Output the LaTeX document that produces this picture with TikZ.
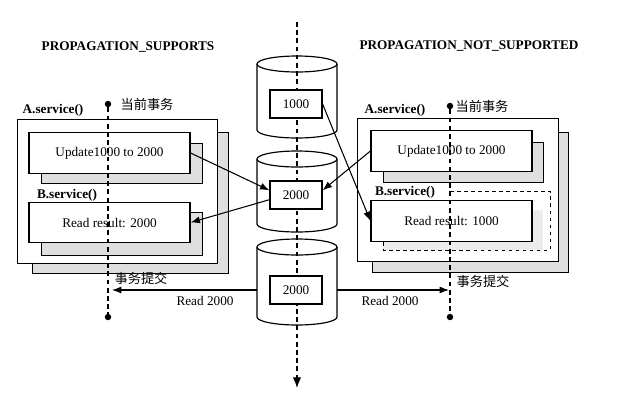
\documentclass[tikz,border=0pt]{standalone}
\usepackage{fontspec}
\setmainfont{Liberation Serif}
\newfontfamily\cjk{Noto Sans CJK SC}
\usetikzlibrary{arrows.meta}
\usetikzlibrary{positioning}

\begin{document}
\begin{tikzpicture}[x=0.03cm,y=-0.03cm,font=\fontsize{11.3}{13}\selectfont]
  \tikzset{
    box/.style={draw,line width=1pt,fill=white,minimum width=4.83cm,minimum height=1.22cm,inner sep=0pt},
    outer/.style={draw,line width=1pt,fill=white,minimum width=6.02cm,minimum height=4.3cm},
    val/.style={draw,line width=1pt,fill=white,minimum width=1.56cm,minimum height=0.84cm},
    shadowbox/.style={draw,line width=0.8pt,fill=gray!25},
    dot/.style={circle,fill,inner sep=0pt,minimum size=5.5pt},
    tline/.style={line width=0.9pt,dash pattern=on 4pt off 3pt},
    arr/.style={line width=0.9pt,-{Latex[length=8pt,width=6pt]}},
    lbl/.style={font=\fontsize{11.3}{13}\selectfont\bfseries},
  }
  \useasboundingbox (0,0) rectangle (635,407);
  \foreach \t/\b in {64/130,159/224,247/317} {
    \draw[line width=1pt,fill=white] (257,\t) -- (257,\b) arc[start angle=180,end angle=0,x radius=40,y radius=8]
      -- (337,\t) arc[start angle=0,end angle=-180,x radius=40,y radius=8] -- cycle;
    \draw[line width=1pt] (257,\t) arc[start angle=180,end angle=0,x radius=40,y radius=8];
  }
  \coordinate (atop) at (297,22);
  \coordinate (abot) at (297,388);
  \draw[tline,-{Latex[length=9pt,width=7pt]}] (atop) -- (abot);
  \node[val] (v1) at (296,104) {1000};
  \node[val] (v2) at (296,195) {2000};
  \node[val] (v3) at (296,290) {2000};
  \coordinate (c3w) at (257,290);
  \coordinate (c3e) at (337,290);

  \node[lbl] at (128,47) {PROPAGATION\_SUPPORTS};
  \draw[shadowbox] (32,132) rectangle (228,273);
  \node[outer] (la) at (117.5,191.5) {};
  \draw[shadowbox] (41,143) rectangle (202,183);
  \draw[shadowbox] (41,212) rectangle (202,255);
  \node[box] (lupd) at (109.5,153) {Update1000 to 2000};
  \node[box] (lrd) at (109.5,222.5) {Read result: 2000};
  \node[lbl] at (53,110) {A.service()};
  \node[lbl] at (67,195) {B.service()};
  \node[dot] (ltop) at (108,104) {};
  \node[dot] (lbot) at (108,317) {};
  \node at (147,104) {\cjk 当前事务};
  \node at (141,278) {\cjk 事务提交};
  \draw[tline] (ltop) -- (lbot);
  \coordinate (lend) at (112,290);

  \node[lbl] at (469,46) {PROPAGATION\_NOT\_SUPPORTED};
  \draw[shadowbox] (372,132) rectangle (568,272);
  \node[outer] (ra) at (458,190) {};
  \draw[shadowbox] (383,142) rectangle (543,182);
  \fill[gray!15] (383,210) rectangle (543,250);
  \draw[line width=0.8pt,dashed] (450,191) -- (550,191) -- (550,250) -- (383,250) -- (383,241);
  \node[box] (rupd) at (451.5,151) {Update1000 to 2000};
  \node[box] (rrd) at (451.5,221) {Read result: 1000};
  \node[lbl] at (395,110) {A.service()};
  \node[lbl] at (405,192) {B.service()};
  \node[dot] (rtop) at (450,106) {};
  \node[dot] (rbot) at (450,317) {};
  \node at (482,106) {\cjk 当前事务};
  \node at (483,281) {\cjk 事务提交};
  \draw[tline] (rtop) -- (rbot);
  \coordinate (rend) at (449,290);

  \draw[arr] (lupd.east) -- (v2.170);
  \draw[arr] (v2.190) -- (lrd.east);
  \draw[arr] (rupd.west) -- (v2.10);
  \draw[arr] (v1.east) -- (rrd.west);
  \draw[arr] (c3w) -- (lend);
  \draw[arr] (c3e) -- (rend);
  \node at (205,301) {Read 2000};
  \node at (390,301) {Read 2000};
\end{tikzpicture}
\end{document}
